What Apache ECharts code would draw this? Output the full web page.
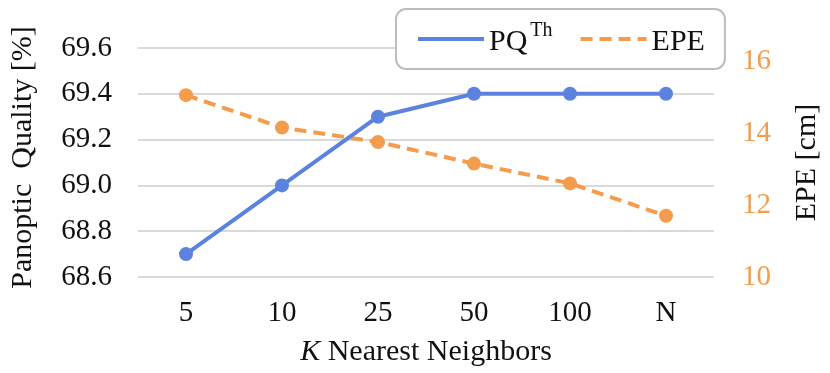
<!DOCTYPE html>
<html>
<head>
<meta charset="utf-8">
<script src="https://cdn.jsdelivr.net/npm/echarts@6/dist/echarts.min.js"></script>
<style>
  html, body { margin: 0; padding: 0; background: #fff; }
  #chart { width: 830px; height: 373px; }
</style>
</head>
<body>
<div id="chart"></div>
<script>
// K values on the x axis
const kValues = ['5', '10', '25', '50', '100', 'N'];
// PQ^Th [%] (left axis)
const pqTh = [68.7, 69.0, 69.3, 69.4, 69.4, 69.4];
// EPE [cm] (right axis)
const epe = [15.05, 14.15, 13.75, 13.15, 12.6, 11.7];

const blue = '#5B82DF';
const orange = '#F49C4C';
const font = 'Liberation Serif';

const chart = echarts.init(document.getElementById('chart'));

const option = {
  textStyle: { fontFamily: font },
  grid: { left: 136, right: 113, top: 48, bottom: 96 },
  legend: {
    left: 396,
    top: 9,
    padding: [12, 20, 12, 20],
    itemGap: 26,
    itemWidth: 66,
    itemHeight: 14,
    backgroundColor: '#fff',
    borderColor: '#bdbdbd',
    borderWidth: 2,
    borderRadius: 10,
    itemStyle: { opacity: 0 },
    lineStyle: { width: 4 },
    data: ['PQTh', 'EPE'],
    formatter: function (name) {
      if (name === 'PQTh') return '{a|PQ}{b|Th}';
      return '{a|' + name + '}';
    },
    textStyle: {
      fontFamily: font,
      color: '#111',
      rich: {
        a: { fontSize: 30, fontFamily: font, color: '#111', verticalAlign: 'bottom', lineHeight: 36 },
        b: { fontSize: 20, fontFamily: font, color: '#111', verticalAlign: 'top', padding: [0, 0, 0, 3] }
      }
    }
  },
  xAxis: {
    type: 'category',
    data: kValues,
    boundaryGap: true,
    axisLine: { show: false },
    axisTick: { show: false },
    axisLabel: { fontSize: 29, color: '#111', margin: 22, fontFamily: font },
    name: '{i|K} Nearest Neighbors',
    nameLocation: 'middle',
    nameGap: 60,
    nameTextStyle: {
      fontSize: 30,
      color: '#111',
      fontFamily: font,
      rich: {
        i: { fontSize: 30, fontStyle: 'italic', fontFamily: font, color: '#111' }
      }
    }
  },
  yAxis: [
    {
      type: 'value',
      min: 68.6,
      max: 69.6,
      interval: 0.2,
      axisLine: { show: false },
      axisTick: { show: false },
      splitLine: { lineStyle: { color: '#d9d9d9', width: 2 } },
      axisLabel: {
        fontSize: 29,
        color: '#111',
        margin: 26,
        fontFamily: font,
        formatter: v => v.toFixed(1)
      },
      name: 'Panoptic  Quality [%]',
      nameLocation: 'middle',
      nameRotate: 90,
      nameGap: 100,
      nameTextStyle: { fontSize: 30, color: '#111', fontFamily: font, padding: [0, 0, 0, 10] }
    },
    {
      type: 'value',
      min: 10,
      max: 16.36,
      interval: 2,
      position: 'right',
      axisLine: { show: false },
      axisTick: { show: false },
      splitLine: { show: false },
      axisLabel: {
        fontSize: 29,
        color: orange,
        margin: 28,
        fontFamily: font,
        showMaxLabel: false
      },
      name: 'EPE [cm]',
      nameLocation: 'middle',
      nameRotate: 90,
      nameGap: 78,
      nameTextStyle: { fontSize: 30, color: '#111', fontFamily: font }
    }
  ],
  series: [
    {
      name: 'PQTh',
      type: 'line',
      yAxisIndex: 0,
      data: pqTh,
      symbol: 'circle',
      symbolSize: 14,
      lineStyle: { color: blue, width: 4 },
      itemStyle: { color: blue },
      z: 3
    },
    {
      name: 'EPE',
      type: 'line',
      yAxisIndex: 1,
      data: epe,
      symbol: 'circle',
      symbolSize: 14,
      lineStyle: { color: orange, width: 4, type: [12, 7] },
      itemStyle: { color: orange },
      z: 2
    }
  ]
};

chart.setOption(option);
</script>
</body>
</html>
